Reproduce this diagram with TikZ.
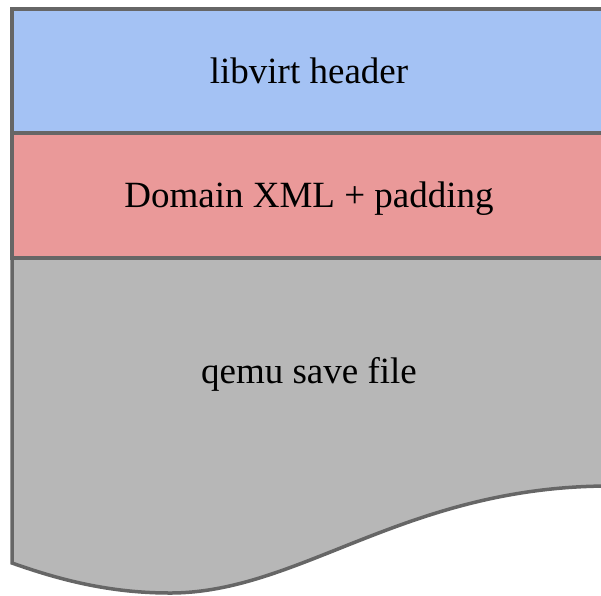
\documentclass[tikz,border=0pt]{standalone}
\usepackage{fontspec}
\setmainfont{Liberation Serif}
\definecolor{hdrblue}{HTML}{A4C2F4}
\definecolor{xmlred}{HTML}{EA9999}
\definecolor{qemugray}{HTML}{B7B7B7}
\definecolor{edge}{HTML}{666666}
\tikzset{
  part/.style={draw=edge, line width=3.5pt, line join=miter},
  lbl/.style={font=\fontsize{37}{40}\selectfont, text=black, anchor=base, inner sep=0pt}
}
\begin{document}
\begin{tikzpicture}[x=1pt,y=-1pt]
\useasboundingbox (0,0) rectangle (601,595);
\clip (0,0) rectangle (601,595);
% qemu save file (document shape with wavy bottom)
\path[part, fill=qemugray] (12,258) -- (12,563)
  .. controls (60,580) and (110,593) .. (170,593)
  .. controls (300,593) and (405,486) .. (610,486)
  -- (610,258) -- cycle;
% domain xml + padding
\path[part, fill=xmlred] (12,133) rectangle (610,258);
% libvirt header
\path[part, fill=hdrblue] (12,9) rectangle (610,133);
\node[lbl] (hdr) at (309,83) {libvirt header};
\node[lbl] (xml) at (309,207) {Domain XML + padding};
\node[lbl] (qemu) at (309,383) {qemu save file};
\end{tikzpicture}
\end{document}
